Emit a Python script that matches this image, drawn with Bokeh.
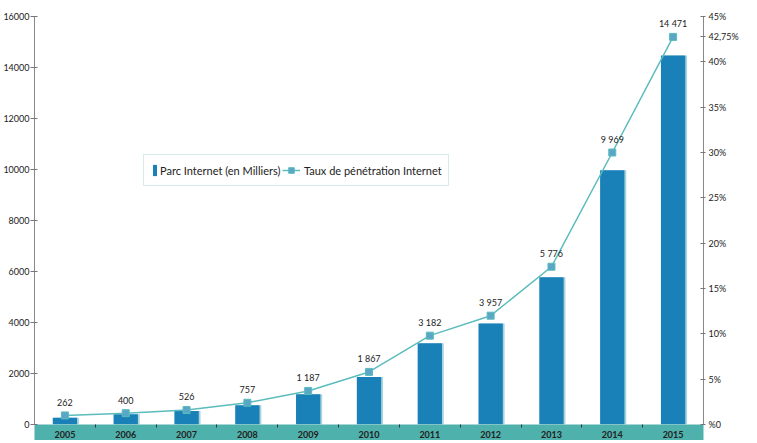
from bokeh.plotting import figure
from bokeh.models import (Range1d, LinearAxis, FixedTicker, ColumnDataSource,
                          Legend, LegendItem)
from bokeh.transform import dodge
from bokeh.core.properties import value
from bokeh.embed import file_html
from bokeh.resources import INLINE

# ---- data ----
years = [2005, 2006, 2007, 2008, 2009, 2010, 2011, 2012, 2013, 2014, 2015]
parc_internet = [262, 400, 526, 757, 1187, 1867, 3182, 3957, 5776, 9969, 14471]
taux_penetration = [1.0, 1.25, 1.6, 2.4, 3.7, 5.8, 9.8, 12.0, 17.4, 30.0, 42.75]
parc_labels = ["262", "400", "526", "757", "1 187", "1 867", "3 182", "3 957", "5 776", "9 969", "14 471"]
left_ticks = [0, 2000, 4000, 6000, 8000, 10000, 12000, 14000, 16000]
right_ticks = [0, 5, 10, 15, 20, 25, 30, 35, 40, 45, 42.75]
right_tick_labels = ["%0", "5%", "10%", "15%", "20%", "25%", "30%", "35%", "40%", "45%", "42,75%"]
legend_bar = "Parc Internet (en Milliers)"
legend_line = "Taux de pénétration Internet"

FONT = "Lato"
BAR = "#1a80b8"
SHADOW = "#a8d4de"
LINE = "#5bbcbc"
MARK = "#5aa6c6"
BAND = "#4fb1ab"
TXT = "#222222"

src = ColumnDataSource(dict(x=years, parc=parc_internet, pct=taux_penetration, lab=parc_labels))

p = figure(width=741, height=440, output_backend="svg", toolbar_location=None,
           x_range=Range1d(2004.5, 2015.5), y_range=Range1d(0, 16000),
           min_border_left=34, min_border_right=33, min_border_top=16, min_border_bottom=0,
           x_axis_location="below", y_axis_location="left")
p.extra_y_ranges = {"pct": Range1d(0, 45)}
p.outline_line_color = None
p.grid.visible = False
p.background_fill_color = "white"
p.border_fill_color = "white"

# bars with light shadow
p.vbar(x=dodge("x", 0.03, range=p.x_range), top="parc", width=0.4, source=src,
       fill_color=SHADOW, line_color=None)
bars = p.vbar(x="x", top="parc", width=0.4, source=src, fill_color=BAR, line_color=None)

# penetration line
ln = p.line(x="x", y="pct", source=src, y_range_name="pct", line_color=LINE, line_width=1.5)
mk = p.scatter(x="x", y="pct", source=src, y_range_name="pct", marker="square", size=7,
               fill_color=MARK, line_color=LINE, line_width=1)

# data labels
p.text(x="x", y="pct", text="lab", source=src, y_range_name="pct", y_offset=-13,
       text_align="center", text_baseline="middle", text_font=value(FONT),
       text_font_size="9px", text_color=TXT)

# x axis (band)
xa = p.xaxis[0]
xa.ticker = FixedTicker(ticks=years, minor_ticks=[y + 0.5 for y in years[:-1]])
xa.axis_line_color = None
xa.major_tick_in = 0
xa.major_tick_out = 0
xa.minor_tick_in = 0
xa.minor_tick_out = 3
xa.minor_tick_line_color = "#333333"
xa.major_label_standoff = 3
xa.major_label_text_font = FONT
xa.major_label_text_font_size = "9px"
xa.major_label_text_font_style = "bold"
xa.major_label_text_color = TXT
xa.background_fill_color = BAND

# left axis
ya = p.yaxis[0]
ya.ticker = FixedTicker(ticks=left_ticks, minor_ticks=[])
ya.axis_line_color = "#888888"
ya.major_tick_line_color = "#777777"
ya.major_tick_in = 3
ya.major_tick_out = 4
ya.minor_tick_in = 0
ya.minor_tick_out = 0
ya.major_label_standoff = 1
ya.major_label_text_font = FONT
ya.major_label_text_font_size = "9px"
ya.major_label_text_color = TXT

# right axis
ra = LinearAxis(y_range_name="pct",
                ticker=FixedTicker(ticks=right_ticks, minor_ticks=[]),
                major_label_overrides={t: l for t, l in zip(right_ticks, right_tick_labels)})
ra.axis_line_color = "#888888"
ra.major_tick_line_color = "#777777"
ra.major_tick_in = 3
ra.major_tick_out = 2
ra.minor_tick_in = 0
ra.minor_tick_out = 0
ra.major_label_standoff = 3
ra.major_label_text_font = FONT
ra.major_label_text_font_size = "9px"
ra.major_label_text_color = TXT
p.add_layout(ra, "right")

# legends: bordered one for the bars, plain one for the line placed inside the same box
leg1 = Legend(items=[LegendItem(label=legend_bar, renderers=[bars])],
              location=(109, 238), orientation="horizontal",
              glyph_width=5, glyph_height=14, label_standoff=3, padding=8,
              label_width=280, label_height=14,
              border_line_color="#a9d9d9", border_line_width=1.5,
              background_fill_color="white", background_fill_alpha=1,
              label_text_font=FONT, label_text_font_size="11px", label_text_color=TXT)
leg2 = Legend(items=[LegendItem(label=legend_line, renderers=[ln, mk])],
              location=(248, 247), orientation="horizontal",
              glyph_width=18, glyph_height=14, label_standoff=4, padding=8,
              label_height=14,
              border_line_color=None, background_fill_alpha=0,
              label_text_font=FONT, label_text_font_size="11px", label_text_color=TXT)
p.add_layout(leg1, "center")
p.add_layout(leg2, "center")

open("out.html", "w").write(file_html(p, INLINE))
